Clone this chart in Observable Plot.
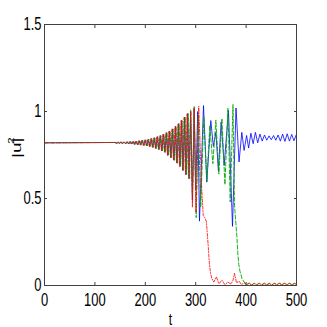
<!DOCTYPE html>
<html><head><meta charset="utf-8">
<script src="https://cdn.jsdelivr.net/npm/d3@7"></script>
<script src="https://cdn.jsdelivr.net/npm/@observablehq/plot@0.6"></script>
<style>
html,body{margin:0;padding:0;background:#fff;}
</style></head><body><div id="chart"></div>
<script>
// Flat initial level of |u|^2
const baseLevel = 0.82;

// Shared growth phase (extrema)
const growT = [140,143,146,149,152,155,158,161,164,167,170,173,176,179,182,185,188,191,194,197,
  200,203,206,209,212,215,218,221,224,227,230,233,236,239,242,245,248,251,254,257,
  260,263,266,269,272,275,278,281,284,287];
const growU = [.822,.818,.823,.817,.824,.816,.825,.815,.826,.814,.827,.813,.828,.811,.830,.809,.832,.807,.834,.805,
  .837,.802,.840,.798,.844,.794,.849,.788,.855,.782,.861,.774,.869,.765,.878,.748,.888,.735,.900,.720,
  .914,.703,.930,.684,.948,.661,.968,.638,.988,.615];
const phaseLag = {blue: 0, green: 1, red: -1};

// Blue (solid) late phase
const blueT = [290,293.5,297,300,304,307.5,315.5,322,330,335,340,345,350.5,356.5,365,373,380,386,391.5,396,401,405,
  409.5,414,418.5,423,427.5,432,436.5,441,445.5,450,454.5,459,463.5,468,472.5,477,481.5,486,490.5,495,499.5,500];
const blueU = [1.0,.49,1.02,.55,1.0,.37,1.034,.594,.948,.80,.88,.66,.94,.69,1.006,.34,1.02,.71,.88,.776,.862,.79,
  .875,.815,.88,.82,.87,.83,.865,.835,.86,.838,.862,.835,.865,.83,.87,.828,.872,.83,.868,.832,.866,.86];

// Green (dashed) late phase
const greenT = [290,293.5,297,301,305,310,316,322,328,334,340,346,352,358,364,368.5,374,377,381.5,383.5,385.5,388,392,396,
  401,406,411,416,421,426,431,436,441,446,451,456,461,466,471,476,481,486,491,496,500];
const greenU = [1.01,.52,1.03,.39,.98,.45,.97,.60,.92,.70,.95,.64,.96,.58,1.02,.48,1.04,.46,.29,.19,.12,.08,.04,.02,
  .005,.015,.003,.012,.004,.014,.005,.011,.003,.013,.004,.012,.005,.014,.004,.012,.006,.013,.004,.011,.006];

// Red (dash-dot) late phase
const redT = [290,293.5,297,300.5,306,312,315,318,321,323,325,327,329.5,332,336,341,346,352,358,364,370,374,377,381,386,391,396,
  401,406,411,416,421,426,431,436,441,446,451,456,461,466,471,476,481,486,491,496,500];
const redU = [1.0,.45,1.02,.42,1.03,.55,.40,.39,.37,.30,.22,.13,.07,.04,.02,.05,.01,.03,.005,.02,.008,.03,.07,.015,.025,.005,.015,
  .004,.012,.003,.013,.004,.012,.003,.014,.005,.011,.003,.013,.004,.012,.005,.014,.003,.012,.005,.013,.006];

const xTicks = [0,100,200,300,400,500];
const yTicks = [0,0.5,1,1.5];
const yTickLabels = ["0","0.5","1","1.5"];
const xTitle = "t";
const yTitleBase = "|u|";
const yTitleSup = "2";

function build(name, lateT, lateU) {
  const pts = [{t: 0, u: baseLevel}];
  growT.forEach((t, i) => pts.push({t: t + phaseLag[name], u: growU[i]}));
  lateT.forEach((t, i) => pts.push({t, u: lateU[i]}));
  return pts;
}
const blue = build("blue", blueT, blueU);
const green = build("green", greenT, greenU);
const red = build("red", redT, redU);

const chart = Plot.plot({
  width: 327, height: 327,
  marginLeft: 44, marginRight: 31, marginTop: 24, marginBottom: 42,
  x: {domain: [0, 500], label: null},
  y: {domain: [0, 1.5], label: null},
  style: {fontFamily: "'Liberation Sans', Arial, sans-serif", background: "#fff", color: "#000"},
  marks: [
    Plot.line(blue, {x: "t", y: "u", stroke: "#0000ff", strokeWidth: 0.8}),
    Plot.line(green, {x: "t", y: "u", stroke: "#00a800", strokeWidth: 0.9, strokeDasharray: "4,2"}),
    Plot.line(red, {x: "t", y: "u", stroke: "#ff0000", strokeWidth: 0.8, strokeDasharray: "3,1.5,1,1.5"}),
    Plot.frame({stroke: "#404040"}),
    Plot.axisX({anchor: "bottom", ticks: xTicks, tickSize: -3, tickFormat: () => "", label: null, stroke: "#404040"}),
    Plot.axisX({anchor: "top", ticks: xTicks, tickSize: -3, tickFormat: () => "", label: null, stroke: "#404040"}),
    Plot.axisY({anchor: "left", ticks: yTicks, tickSize: -3, tickFormat: () => "", label: null, stroke: "#404040"}),
    Plot.axisY({anchor: "right", ticks: yTicks, tickSize: -3, tickFormat: () => "", label: null, stroke: "#404040"}),
    Plot.axisX({anchor: "bottom", ticks: xTicks, tickSize: 0, tickPadding: 8, fontSize: 18, label: null, tickFormat: d => String(d)}),
    Plot.axisY({anchor: "left", ticks: yTicks, tickSize: 0, tickPadding: 3, fontSize: 18, label: null,
      tickFormat: d => yTickLabels[yTicks.indexOf(d)]}),
    Plot.text([xTitle], {frameAnchor: "bottom", dy: 27, lineAnchor: "top", fontSize: 17, fill: "#000"}),
    Plot.text([yTitleBase], {frameAnchor: "left", dx: -28, dy: 3, rotate: -90, fontSize: 19, fill: "#000"}),
    Plot.text([yTitleSup], {frameAnchor: "left", dx: -33.5, dy: -11, rotate: -90, fontSize: 12, fill: "#000"})
  ]
});

chart.querySelectorAll("text").forEach(el => {
  let tr = el.getAttribute("transform") || "";
  const x = el.getAttribute("x");
  if (x != null && !/em$/.test(x)) { tr = `translate(${x},0) ` + tr; el.removeAttribute("x"); }
  el.setAttribute("transform", tr + (tr.includes("rotate") ? " scale(1,0.7)" : " scale(0.72,1)"));
});
document.getElementById("chart").appendChild(chart);
</script></body></html>
